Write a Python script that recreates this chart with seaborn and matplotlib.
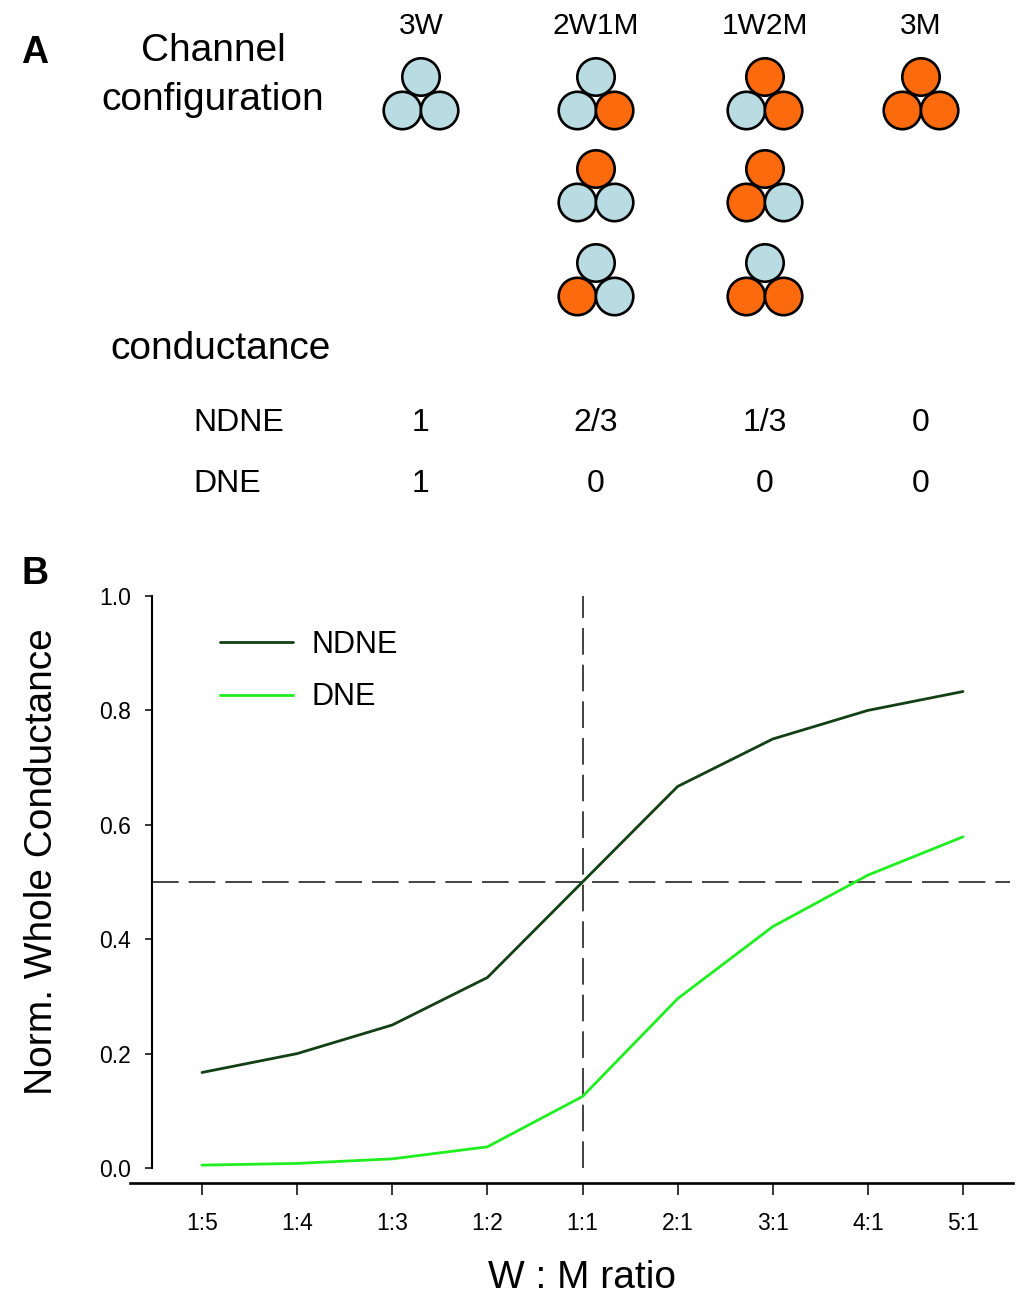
import numpy as np
import pandas as pd
import matplotlib
matplotlib.use("Agg")
import matplotlib.pyplot as plt
from matplotlib.patches import Circle
import seaborn as sns

# ---------------- data ----------------
ratios = ["1:5", "1:4", "1:3", "1:2", "1:1", "2:1", "3:1", "4:1", "5:1"]
ndne = [0.167, 0.200, 0.250, 0.333, 0.500, 0.667, 0.750, 0.800, 0.833]
dne = [0.005, 0.008, 0.016, 0.037, 0.125, 0.296, 0.422, 0.512, 0.579]
series_names = ["NDNE", "DNE"]
yticks = [0.0, 0.2, 0.4, 0.6, 0.8, 1.0]
ytick_labels = ["0.0", "0.2", "0.4", "0.6", "0.8", "1.0"]

config_labels = ["3W", "2W1M", "1W2M", "3M"]
# each configuration: (top, bottom-left, bottom-right) subunits
config_sets = [
    [("W", "W", "W")],
    [("W", "W", "M"), ("M", "W", "W"), ("W", "M", "W")],
    [("M", "W", "M"), ("M", "M", "W"), ("W", "M", "M")],
    [("M", "M", "M")],
]
cond_ndne = ["1", "2/3", "1/3", "0"]
cond_dne = ["1", "0", "0", "0"]

# ---------------- style ----------------
sns.set_style("ticks")
plt.rcParams["font.family"] = ["Liberation Sans", "DejaVu Sans"]
plt.rcParams["text.color"] = "black"
plt.rcParams["axes.labelcolor"] = "black"
plt.rcParams["xtick.color"] = "black"
plt.rcParams["ytick.color"] = "black"

W_PX, H_PX = 1025, 1300
fig = plt.figure(figsize=(W_PX / 100, H_PX / 100), dpi=100)

# overlay axes in pixel coordinates for panel A
ax0 = fig.add_axes([0, 0, 1, 1], zorder=0)
ax0.set_xlim(0, W_PX)
ax0.set_ylim(H_PX, 0)
ax0.axis("off")

sub_colors = {"W": "#b9dce2", "M": "#fb6a0c"}
col_x = [421, 596, 765, 921]
row_y = [77, 169, 263]
r = 18.7
offsets = [(0, 0), (-18.6, 33.5), (18.6, 33.5)]

for ci, sets in enumerate(config_sets):
    for ri, trip in enumerate(sets):
        for (dx, dy), s in zip(offsets, trip):
            ax0.add_patch(Circle((col_x[ci] + dx, row_y[ri] + dy), r,
                                 facecolor=sub_colors[s], edgecolor="black",
                                 linewidth=1.9, zorder=3))
    ax0.text(col_x[ci], 34, config_labels[ci], ha="center", va="baseline",
             fontsize=21.5)
    ax0.text(col_x[ci], 431, cond_ndne[ci], ha="center", va="baseline", fontsize=23)
    ax0.text(col_x[ci], 492, cond_dne[ci], ha="center", va="baseline", fontsize=23)

ax0.text(35, 63, "A", ha="center", va="baseline", fontsize=27, fontweight="bold")
ax0.text(35, 584, "B", ha="center", va="baseline", fontsize=27, fontweight="bold")
ax0.text(213, 61, "Channel", ha="center", va="baseline", fontsize=28)
ax0.text(213, 110, "configuration", ha="center", va="baseline", fontsize=28)
ax0.text(110, 359, "conductance", ha="left", va="baseline", fontsize=28)
ax0.text(193, 431, "NDNE", ha="left", va="baseline", fontsize=23)
ax0.text(193, 492, "DNE", ha="left", va="baseline", fontsize=23)

# ---------------- panel B ----------------
x0_px, x1_px = 130, 1013
y_bot_px, y_top_px = 1183, 596
ax = fig.add_axes([x0_px / W_PX, 1 - y_bot_px / H_PX,
                   (x1_px - x0_px) / W_PX, (y_bot_px - y_top_px) / H_PX], zorder=1)
ax.patch.set_alpha(0)

pos = np.arange(len(ratios))
step_px = (963 - 202) / (len(ratios) - 1)
xmin = (x0_px - 202) / step_px
xmax = (x1_px - 202) / step_px
y0_px = 1168
ypx_per = (y0_px - y_top_px)
ymin = -(y_bot_px - y0_px) / ypx_per

df = pd.DataFrame({
    "pos": np.concatenate([pos, pos]),
    "value": ndne + dne,
    "model": [series_names[0]] * len(pos) + [series_names[1]] * len(pos),
})
palette = {"NDNE": "#123f14", "DNE": "#1fee1f"}
sns.lineplot(data=df, x="pos", y="value", hue="model", hue_order=series_names,
             palette=palette, linewidth=2.0, ax=ax, legend=True)

ax.set_xlim(xmin, xmax)
ax.set_ylim(ymin, 1.0)

yaxis_x = (152 - 202) / step_px
dash_kw = dict(color="#222222", linewidth=1.2, dashes=(16, 6), zorder=1)
ax.plot([yaxis_x, (1010 - 202) / step_px], [0.5, 0.5], **dash_kw)
ax.plot([4, 4], [0, 1.0], **dash_kw)

ax.spines["top"].set_visible(False)
ax.spines["right"].set_visible(False)
ax.spines["left"].set_position(("data", yaxis_x))
ax.spines["left"].set_bounds(0, 1.0)
ax.spines["left"].set_linewidth(1.5)
ax.spines["bottom"].set_linewidth(1.9)
for sp in ["left", "bottom"]:
    ax.spines[sp].set_color("black")

ax.set_xticks(pos)
ax.set_xticklabels(ratios)
ax.set_yticks(yticks)
ax.set_yticklabels(ytick_labels)
ax.tick_params(axis="x", direction="out", length=8.6, width=1.1, pad=12,
               labelsize=16.5, colors="black")
ax.tick_params(axis="y", direction="out", length=5, width=1.1, pad=10,
               labelsize=16.5, colors="black")

ax.set_xlabel("W : M ratio", fontsize=28)
ax.set_ylabel("Norm. Whole Conductance", fontsize=28)
ax.xaxis.set_label_coords((582 - x0_px) / (x1_px - x0_px), -(1288 - y_bot_px) / (y_bot_px - y_top_px))
ax.xaxis.label.set_va("baseline")
ax.yaxis.set_label_coords((42 - x0_px) / (x1_px - x0_px), (y_bot_px - 862) / (y_bot_px - y_top_px))
ax.yaxis.label.set_va("center")

handles, labels = ax.get_legend_handles_labels()
leg = ax.legend(handles, labels, loc="center left",
                bbox_to_anchor=(220 / W_PX, 1 - 671 / H_PX),
                bbox_transform=fig.transFigure, frameon=False, fontsize=22,
                handlelength=2.4, handletextpad=0.6, labelspacing=0.75,
                borderpad=0, borderaxespad=0)
for ln in leg.get_lines():
    ln.set_linewidth(2.0)

fig.savefig("out.png", dpi=100)
